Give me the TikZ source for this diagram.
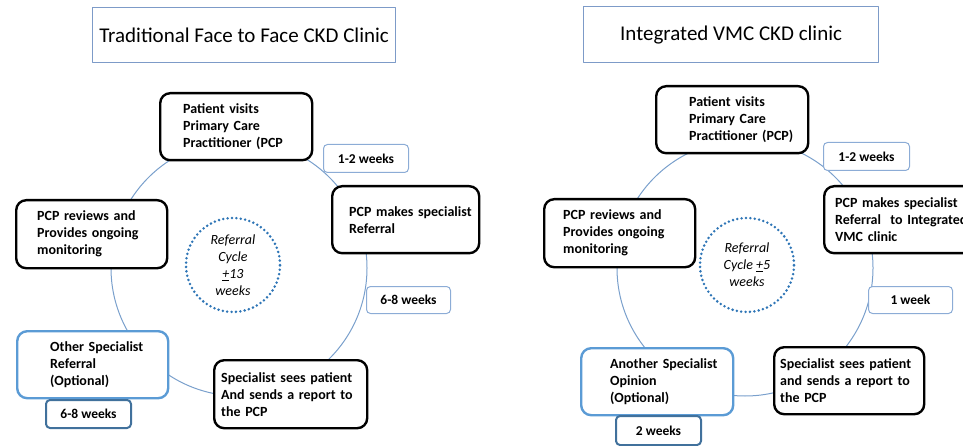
\documentclass[tikz,border=0pt]{standalone}
\usepackage{fontspec}
\setmainfont{Carlito}

\definecolor{ringblue}{RGB}{122,160,204}
\definecolor{titleblue}{RGB}{125,155,200}
\definecolor{labelblue}{RGB}{140,172,214}
\definecolor{optblue}{RGB}{91,155,213}
\definecolor{darkblue}{RGB}{65,113,156}
\definecolor{dotblue}{RGB}{46,117,182}

\tikzset{
  stepbox/.style={draw=black, line width=2.4pt, rounded corners=10pt, fill=white,
    anchor=north west, inner xsep=0pt, minimum height=67pt, align=left,
    font=\fontsize{14}{17}\selectfont\bfseries},
  optbox/.style={stepbox, draw=optblue},
  weekbox/.style={draw=labelblue, line width=1pt, rounded corners=4pt, fill=white,
    anchor=north west, minimum width=85pt, minimum height=28pt, inner sep=0pt,
    font=\fontsize{13.5}{16}\selectfont\bfseries},
  weekboxdark/.style={weekbox, draw=darkblue, line width=2pt},
  titlebox/.style={draw=titleblue, line width=1.2pt, anchor=north west,
    minimum height=55pt, inner sep=0pt, font=\fontsize{21}{25}\selectfont},
  cyclecircle/.style={circle, draw=dotblue, line width=2.8pt, dash pattern=on 0pt off 4.4pt,
    line cap=round, minimum size=94pt, inner sep=0pt, align=center,
    font=\fontsize{14}{17}\selectfont\itshape},
  ring/.style={draw=ringblue, line width=1pt}
}

\begin{document}
\begin{tikzpicture}[x=1pt, y=-1pt, line join=round]
  % Page frame (pixel grid of the reference)
  \clip (0,0) rectangle (963,446);

  % Define key coordinates
  \coordinate (ringL) at (239,268); % Centre of the left cycle
  \coordinate (ringR) at (745,268); % Centre of the right cycle

  % Draw the cycles first (so boxes sit on top)
  \draw[ring] (ringL) circle [radius=128];
  \draw[ring] (ringR) circle [radius=128];

  % ---- Traditional clinic ----
  \node[titlebox, minimum width=303pt] (titleL) at (92,7) {Traditional Face to Face CKD Clinic};

  \node[stepbox, text width=152pt] (visitL) at (159,92)
    {\leftskip=23pt Patient visits\\Primary Care\\Practitioner (PCP\par};
  \node[stepbox, text width=147pt] (referL) at (331,185)
    {\leftskip=17pt PCP makes specialist\\Referral\par};
  \node[stepbox, text width=153pt, minimum height=68pt] (seesL) at (213,359)
    {\leftskip=7pt Specialist sees patient\\And sends a report to\\the PCP\par};
  \node[optbox, text width=151pt] (otherL) at (16,330)
    {\leftskip=33pt Other Specialist\\Referral\\(Optional)\par};
  \node[stepbox, text width=151pt, minimum height=68pt] (reviewL) at (15,199)
    {\leftskip=21pt PCP reviews and\\Provides ongoing\\monitoring\par};

  \node[weekbox] (wkAL) at (323,144) {1-2 weeks};
  \node[weekbox, minimum width=84pt, minimum height=27pt] (wkBL) at (366,286) {6-8 weeks};
  \node[weekboxdark] (wkCL) at (45,399) {6-8 weeks};

  \node[cyclecircle] (cycleL) at (233,265) {Referral\\Cycle\\\underline{+}13\\weeks};

  % ---- Integrated clinic ----
  \node[titlebox, minimum width=295pt, minimum height=56pt] (titleR) at (583,6) {Integrated VMC CKD clinic};

  \node[stepbox, text width=152pt] (visitR) at (655,85)
    {\leftskip=33pt Patient visits\\Primary Care\\Practitioner (PCP)\par};
  \node[stepbox, text width=155pt] (referR) at (823,185)
    {\leftskip=11pt PCP makes specialist\\Referral~ to Integrated\\VMC clinic\par};
  \node[stepbox, text width=150pt] (seesR) at (773,346)
    {\leftskip=6pt Specialist sees patient\\and sends a report to\\the PCP\par};
  \node[optbox, text width=152pt] (otherR) at (580,347)
    {\leftskip=29pt Another Specialist\\Opinion\\(Optional)\par};
  \node[stepbox, text width=151pt, minimum height=68pt] (reviewR) at (543,198)
    {\leftskip=19pt PCP reviews and\\Provides ongoing\\monitoring\par};

  \node[weekbox, minimum width=86pt] (wkAR) at (823,142) {1-2 weeks};
  \node[weekbox, minimum width=84pt, minimum height=27pt] (wkBR) at (868,286) {1 week};
  \node[weekboxdark, minimum height=29pt] (wkCR) at (615,415) {2 weeks};

  \node[cyclecircle] (cycleR) at (747,265) {Referral\\Cycle \underline{+}5\\weeks};
\end{tikzpicture}
\end{document}
